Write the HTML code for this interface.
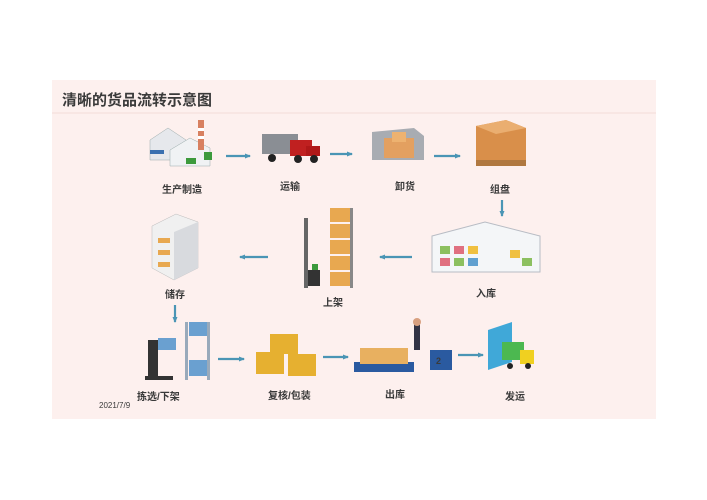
<!DOCTYPE html>
<html><head><meta charset="utf-8"><style>
html,body{margin:0;padding:0;background:#fff;width:707px;height:500px;overflow:hidden}
svg{display:block}
text{font-family:"Liberation Sans","Noto Sans CJK SC",sans-serif;font-weight:bold;fill:#3a3a3a}
</style></head><body>
<svg width="707" height="500" viewBox="0 0 707 500">
<defs>
<marker id="a" markerUnits="userSpaceOnUse" markerWidth="6" markerHeight="6" refX="5" refY="3" orient="auto"><path d="M0,0.5 L6,3 L0,5.5 z" fill="#4a95b5"/></marker>
</defs>
<rect x="52" y="80" width="604" height="339" fill="#fdf0ee"/>
<line x1="52" y1="113" x2="656" y2="113" stroke="#f3dcd8"/>
<text x="62" y="105" font-size="15" fill="#555">清晰的货品流转示意图</text>

<g stroke="#4a95b5" stroke-width="2.2" marker-end="url(#a)">
<line x1="226" y1="156" x2="250" y2="156"/>
<line x1="330" y1="154" x2="352" y2="154"/>
<line x1="434" y1="156" x2="460" y2="156"/>
<line x1="502" y1="200" x2="502" y2="216"/>
<line x1="412" y1="257" x2="380" y2="257"/>
<line x1="268" y1="257" x2="240" y2="257"/>
<line x1="175" y1="305" x2="175" y2="322"/>
<line x1="218" y1="359" x2="244" y2="359"/>
<line x1="323" y1="357" x2="348" y2="357"/>
<line x1="458" y1="355" x2="483" y2="355"/>
</g>

<!-- factory -->
<g>
<polygon points="150,140 168,128 186,140 186,160 150,160" fill="#e6e8ec" stroke="#9aa" stroke-width=".5"/>
<rect x="150" y="150" width="14" height="4" fill="#3a70b0"/>
<polygon points="170,150 190,138 210,148 210,166 170,166" fill="#f0f2f4" stroke="#9aa" stroke-width=".5"/>
<rect x="198" y="120" width="6" height="30" fill="#d88060"/>
<rect x="198" y="128" width="6" height="3" fill="#fff"/><rect x="198" y="136" width="6" height="3" fill="#fff"/>
<rect x="186" y="158" width="10" height="6" fill="#3c9a3c"/><rect x="204" y="152" width="8" height="8" fill="#3c9a3c"/>
</g>
<!-- truck -->
<g>
<rect x="262" y="134" width="36" height="20" fill="#8a8e94"/>
<rect x="290" y="140" width="22" height="16" fill="#c02020"/>
<rect x="306" y="146" width="14" height="10" fill="#b01818"/>
<circle cx="272" cy="158" r="4" fill="#222"/><circle cx="298" cy="159" r="4" fill="#222"/><circle cx="314" cy="159" r="4" fill="#222"/>
</g>
<!-- unloading -->
<g>
<polygon points="372,132 414,128 424,136 424,160 372,160" fill="#a8acb2"/>
<rect x="384" y="138" width="30" height="20" fill="#e3a060"/>
<rect x="392" y="132" width="14" height="10" fill="#edb270"/>
</g>
<!-- pallet -->
<g>
<polygon points="476,126 506,120 526,128 526,160 496,166 476,160" fill="#d98f4a"/>
<polygon points="476,126 506,120 526,128 496,134" fill="#eaae70"/>
<rect x="476" y="160" width="50" height="6" fill="#b07840"/>
</g>
<text x="162" y="193" font-size="10">生产制造</text>
<text x="280" y="190" font-size="10">运输</text>
<text x="395" y="190" font-size="10">卸货</text>
<text x="490" y="193" font-size="10">组盘</text>

<!-- warehouse -->
<g>
<polygon points="432,236 485,222 540,236 540,272 432,272" fill="#f4f6f8" stroke="#b8bcc4"/>
<g fill="#8cc060"><rect x="440" y="246" width="10" height="8"/><rect x="454" y="246" width="10" height="8" fill="#e07080"/><rect x="468" y="246" width="10" height="8" fill="#f0c040"/>
<rect x="440" y="258" width="10" height="8" fill="#e07080"/><rect x="454" y="258" width="10" height="8"/><rect x="468" y="258" width="10" height="8" fill="#60a0d0"/>
<rect x="510" y="250" width="10" height="8" fill="#f0c040"/><rect x="522" y="258" width="10" height="8"/></g>
</g>
<!-- shelf -->
<g>
<rect x="304" y="218" width="4" height="70" fill="#666"/><rect x="350" y="208" width="3" height="80" fill="#888"/>
<g fill="#e8a850"><rect x="330" y="208" width="20" height="14"/><rect x="330" y="224" width="20" height="14"/><rect x="330" y="240" width="20" height="14"/><rect x="330" y="256" width="20" height="14"/><rect x="330" y="272" width="20" height="14"/></g>
<rect x="308" y="270" width="12" height="16" fill="#333"/><rect x="312" y="264" width="6" height="6" fill="#3c9a3c"/>
</g>
<!-- storage building -->
<g>
<polygon points="152,226 176,214 198,222 198,268 174,280 152,268" fill="#f0f0f0" stroke="#bbb" stroke-width=".5"/>
<polygon points="174,232 198,222 198,268 174,280" fill="#d8dade"/>
<g fill="#e8a850"><rect x="158" y="238" width="12" height="5"/><rect x="158" y="250" width="12" height="5"/><rect x="158" y="262" width="12" height="5"/></g>
</g>
<text x="476" y="297" font-size="10">入库</text>
<text x="323" y="306" font-size="10">上架</text>
<text x="165" y="298" font-size="10">储存</text>

<!-- picking -->
<g>
<rect x="148" y="340" width="10" height="36" fill="#333"/>
<rect x="158" y="338" width="18" height="12" fill="#6aa0d0"/>
<rect x="185" y="322" width="3" height="58" fill="#9ab"/><rect x="207" y="322" width="3" height="58" fill="#9ab"/>
<rect x="189" y="322" width="18" height="14" fill="#6aa0d0"/><rect x="189" y="360" width="18" height="16" fill="#6aa0d0"/>
<rect x="145" y="376" width="28" height="4" fill="#333"/>
</g>
<!-- boxes -->
<g fill="#e6b030">
<rect x="270" y="334" width="28" height="20"/><rect x="256" y="352" width="28" height="22"/><rect x="288" y="354" width="28" height="22"/>
</g>
<!-- outbound pallet truck -->
<g>
<rect x="354" y="362" width="60" height="10" fill="#2a5aa0"/>
<rect x="360" y="348" width="48" height="16" fill="#e8b060"/>
<rect x="430" y="350" width="22" height="20" fill="#2a5aa0"/>
<text x="436" y="364" font-size="9" fill="#fff">2</text>
<rect x="414" y="320" width="6" height="30" fill="#334"/>
<circle cx="417" cy="322" r="4" fill="#d8a080"/>
</g>
<!-- shipping -->
<g>
<polygon points="488,330 512,322 512,362 488,370" fill="#40a8d8"/>
<rect x="502" y="342" width="22" height="18" fill="#4cb850"/>
<rect x="520" y="350" width="14" height="14" fill="#f0d020"/>
<circle cx="510" cy="366" r="3" fill="#222"/><circle cx="528" cy="366" r="3" fill="#222"/>
</g>
<text x="137" y="400" font-size="10">拣选/下架</text>
<text x="268" y="399" font-size="10">复核/包装</text>
<text x="385" y="398" font-size="10">出库</text>
<text x="505" y="400" font-size="10">发运</text>
<text x="99" y="408" font-size="8" fill="#555" style="font-weight:normal">2021/7/9</text>
</svg>
</body></html>
